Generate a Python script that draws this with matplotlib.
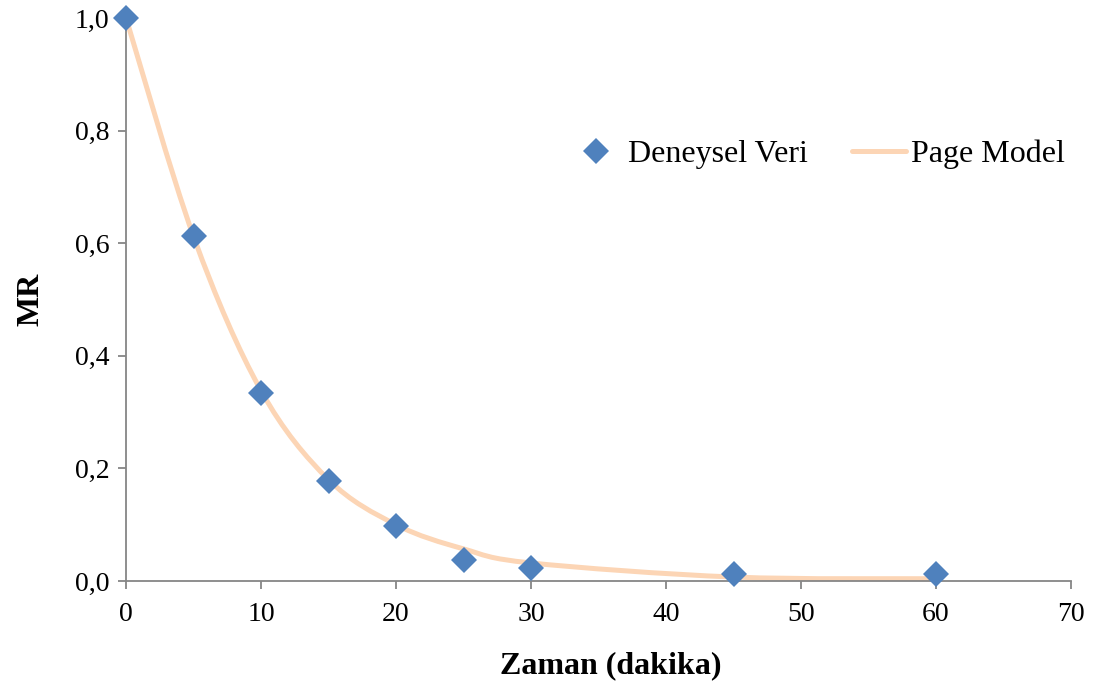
import matplotlib.pyplot as plt
from matplotlib.path import Path
from matplotlib.patches import PathPatch
from matplotlib.lines import Line2D
from matplotlib.ticker import FuncFormatter

plt.rcParams['font.family'] = ['Liberation Serif', 'DejaVu Serif']

# drying time (min) and moisture ratio
zaman = [0, 5, 10, 15, 20, 25, 30, 45, 60]
mr_deney = [1.0, 0.613, 0.334, 0.178, 0.098, 0.037, 0.023, 0.012, 0.012]
mr_page = [1.0, 0.612, 0.338, 0.180, 0.100, 0.057, 0.032, 0.007, 0.004]

marker_color = '#4F81BD'
line_color = '#FCD5B5'
axis_color = '#868686'


def smooth_path(x, y):
    # cubic bezier through the points, like a spreadsheet "smoothed line"
    pts = list(zip(x, y))
    n = len(pts)
    verts = [pts[0]]
    codes = [Path.MOVETO]
    for i in range(n - 1):
        p0 = pts[i - 1] if i > 0 else pts[i]
        p1 = pts[i]
        p2 = pts[i + 1]
        p3 = pts[i + 2] if i + 2 < n else pts[i + 1]
        c1 = (p1[0] + (p2[0] - p0[0]) / 6, p1[1] + (p2[1] - p0[1]) / 6)
        c2 = (p2[0] - (p3[0] - p1[0]) / 6, p2[1] - (p3[1] - p1[1]) / 6)
        verts += [c1, c2, p2]
        codes += [Path.CURVE4] * 3
    return Path(verts, codes)


fig = plt.figure(figsize=(10.99, 6.9), dpi=100)
ax = fig.add_axes([0.1147, 0.158, 0.8598, 0.8159])

ax.add_patch(PathPatch(smooth_path(zaman, mr_page), facecolor='none',
                       edgecolor=line_color, lw=3.6, capstyle='round', zorder=2))
ax.plot(zaman, mr_deney, linestyle='none', marker='D', markersize=13,
        color=marker_color, markeredgewidth=0, zorder=3, clip_on=False)

ax.set_xlim(0, 70)
ax.set_ylim(0, 1.0)
ax.set_xticks(range(0, 71, 10))
ax.set_yticks([0, 0.2, 0.4, 0.6, 0.8, 1.0])
ax.yaxis.set_major_formatter(FuncFormatter(lambda v, p: f'{v:.1f}'.replace('.', ',')))

for s in ['top', 'right']:
    ax.spines[s].set_visible(False)
for s in ['left', 'bottom']:
    ax.spines[s].set_color(axis_color)
    ax.spines[s].set_linewidth(1.3)
ax.tick_params(axis='both', direction='out', length=6, width=1.3, color=axis_color,
               labelsize=20, labelcolor='black')
ax.tick_params(axis='x', pad=9)
ax.tick_params(axis='y', pad=6)

ax.set_xlabel('Zaman (dakika)', fontsize=23, fontweight='bold')
ax.xaxis.set_label_coords(0.513, -0.124)
ax.set_ylabel('MR', fontsize=23, fontweight='bold', labelpad=21)

handles = [
    Line2D([], [], linestyle='none', marker='D', markersize=13, color=marker_color,
           markeredgewidth=0),
    Line2D([], [], color=line_color, lw=3.6, solid_capstyle='round'),
]
ax.legend(handles, ['Deneysel Veri', 'Page Model'], ncol=2, frameon=False,
          fontsize=23, loc='center', bbox_to_anchor=(0.731, 0.758),
          handlelength=1.7, handletextpad=0.15, columnspacing=1.4)

fig.savefig('out.png', dpi=100)
